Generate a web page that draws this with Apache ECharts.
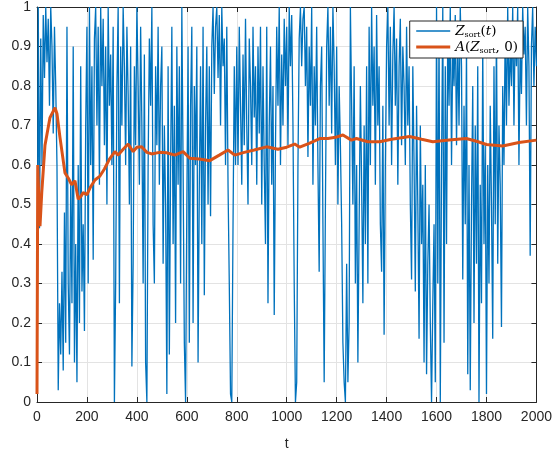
<!DOCTYPE html>
<html><head><meta charset="utf-8">
<script src="https://cdn.jsdelivr.net/npm/echarts@6/dist/echarts.min.js"></script>
<style>html,body{margin:0;padding:0;background:#fff}#c{width:555px;height:456px}</style>
</head><body><div id="c"></div>
<script>
// sample spacing of the blue series (t units)
const tStep = 5;
// Z_sort(t) values, one every 5 units of t, from t=0 to t=2000
const zSort = [
 0.02,1.0,0.44,0.92,0.6,0.98,0.82,1.0,0.86,0.97,0.75,1.0,0.9,0.68,0.95,0.8,0.6,0.03,0.25,0.12,
 0.33,0.08,0.48,0.15,0.95,0.3,0.12,0.55,0.25,0.9,0.1,0.4,0.05,0.6,0.2,0.85,0.28,0.45,0.18,0.7,
 0.95,0.3,1.0,0.6,0.85,0.36,0.92,1.0,0.7,0.95,0.55,1.0,0.8,0.97,0.65,0.9,0.5,1.0,0.75,0.88,
 0.6,0.95,0.0,0.3,0.8,1.0,0.25,0.9,0.7,1.0,0.85,0.6,0.95,0.78,0.5,0.9,0.09,0.35,0.85,0.65,
 1.0,0.8,0.55,0.95,0.7,0.3,0.88,0.1,0.0,0.6,0.92,0.75,1.0,0.45,0.3,0.85,0.65,0.95,0.55,0.8,
 0.9,0.35,0.7,0.5,0.02,0.85,0.12,0.6,0.95,0.4,0.75,0.2,0.9,0.55,0.85,0.3,1.0,0.6,0.15,0.0,
 0.5,0.9,0.15,0.75,0.95,0.2,0.8,0.6,0.9,0.1,0.55,0.85,0.4,0.95,0.27,0.7,0.9,0.5,0.85,0.47,
 0.9,1.0,0.78,0.95,1.0,0.82,0.98,0.7,1.0,0.85,0.92,0.6,0.95,0.55,0.3,0.02,0.0,0.45,0.85,0.6,
 0.9,0.6,0.95,0.75,0.55,0.88,0.65,0.97,0.7,0.5,0.92,0.8,0.6,0.95,0.72,0.85,0.55,0.9,0.68,0.95,
 0.5,0.85,0.6,0.4,0.95,0.25,0.7,0.9,0.55,0.8,0.22,0.65,0.95,0.75,1.0,0.6,0.88,0.7,0.97,0.8,
 0.95,0.65,1.0,0.85,0.98,0.7,0.3,0.0,0.05,0.6,0.92,1.0,0.85,0.97,1.0,0.8,0.95,0.62,0.9,0.75,
 1.0,0.55,0.85,0.7,0.95,0.6,0.33,0.8,0.9,0.45,0.05,0.5,0.9,1.0,0.75,0.95,0.68,1.0,0.85,0.6,
 0.9,0.5,0.8,0.65,0.45,0.15,0.05,0.0,0.35,0.05,0.2,1.0,0.75,0.5,0.85,0.3,0.6,0.1,0.45,0.8,
 0.55,0.25,0.7,0.4,0.85,0.3,0.95,0.6,1.0,0.75,0.9,0.55,0.98,0.7,0.85,0.45,0.33,0.75,0.17,0.6,
 0.9,1.0,0.7,0.95,0.6,0.88,1.0,0.75,0.92,0.55,0.85,0.97,0.65,0.9,0.8,0.6,0.95,0.7,0.85,0.5,
 0.31,0.85,0.6,0.28,0.75,0.5,0.16,0.7,0.4,0.55,0.1,0.6,0.07,0.35,0.5,0.2,0.0,0.25,0.45,0.05,
 1.0,0.3,0.95,0.0,0.6,1.0,0.15,0.85,0.4,0.95,0.75,1.0,0.6,0.9,0.8,0.98,0.65,0.92,0.7,1.0,
 0.85,0.31,0.75,0.45,0.9,0.07,0.6,0.03,0.5,0.8,0.2,0.7,0.35,0.85,0.0,0.55,0.25,0.9,0.4,0.65,
 0.02,0.6,0.3,0.75,0.5,0.16,0.85,0.45,0.95,0.35,0.7,0.55,0.19,0.8,0.6,0.95,0.7,1.0,0.75,0.9,
 0.8,1.0,0.7,0.95,0.85,1.0,0.6,0.9,0.78,1.0,0.88,0.95,0.7,1.0,0.85,0.37,0.9,1.0,0.8,0.95,0.85
];
// A(Z_sort,0): running average, read as [t, value]
const avgT = [0,3,8,12,19,32,52,72,80,92,112,125,139,152,165,175,185,200,215,232,252,270,290,312,325,345,365,385,400,419,440,459,490,519,552,585,612,650,692,730,765,792,830,870,919,965,1000,1032,1052,1090,1132,1165,1195,1225,1259,1279,1325,1372,1420,1492,1540,1585,1650,1719,1760,1800,1865,1930,2000];
const avgV = [0.02,0.6,0.5,0.445,0.53,0.65,0.72,0.745,0.73,0.67,0.58,0.567,0.55,0.56,0.513,0.52,0.53,0.525,0.545,0.562,0.572,0.59,0.615,0.634,0.625,0.64,0.653,0.634,0.645,0.646,0.632,0.628,0.632,0.631,0.625,0.634,0.617,0.615,0.611,0.625,0.638,0.625,0.632,0.638,0.646,0.64,0.645,0.653,0.645,0.655,0.667,0.667,0.67,0.676,0.663,0.667,0.659,0.659,0.665,0.672,0.665,0.659,0.663,0.667,0.66,0.652,0.648,0.657,0.663];
const xTicks = [0,200,400,600,800,1000,1200,1400,1600,1800,2000];
const yTickLabels = ['0','0.1','0.2','0.3','0.4','0.5','0.6','0.7','0.8','0.9','1'];
const names = ['Z_sort(t)','A(Z_sort,0)'];

const blueData = zSort.map((v,i)=>[i*tStep, v]);
const orangeData = avgT.map((t,i)=>[t, avgV[i]]);

const axisColor = '#262626';
const font = 'Liberation Sans, Helvetica, Arial, sans-serif';
const chart = echarts.init(document.getElementById('c'), null, {renderer:'canvas'});
chart.setOption({
  animation:false,
  backgroundColor:'#fff',
  grid:{left:37,right:18,top:7,bottom:54},
  legend:{
    right:32, top:21, orient:'vertical', itemGap:1,
    itemWidth:34, itemHeight:10,
    padding:[3,5,3,5],
    backgroundColor:'#fff', borderColor:'#262626', borderWidth:1, borderRadius:0,
    itemStyle:{opacity:0},
    data:[{name:names[0],lineStyle:{width:1.3}},{name:names[1],lineStyle:{width:3}}],
    formatter:function(n){
      return n===names[0] ? '{i|Z}{s|sort}{n|(}{i|t}{n|)}' : '{i|A}{n|(}{i|Z}{s|sort}{n|, 0)}';
    },
    textStyle:{
      color:'#000',
      rich:{
        i:{fontFamily:'DejaVu Serif, serif',fontStyle:'italic',fontSize:13.5,color:'#000'},
        n:{fontFamily:'DejaVu Serif, serif',fontSize:13.5,color:'#000'},
        s:{fontFamily:'DejaVu Serif, serif',fontSize:8,color:'#000',padding:[8,0,0,0]}
      }
    }
  },
  xAxis:[{
    type:'value', min:0, max:2000, interval:200,
    name:'t', nameLocation:'middle', nameGap:35,
    nameTextStyle:{fontSize:14,color:axisColor,fontFamily:font},
    axisLine:{show:true,onZero:false,lineStyle:{color:axisColor,width:1}},
    axisTick:{show:true,inside:true,length:5,lineStyle:{color:axisColor}},
    axisLabel:{fontSize:14,color:axisColor,fontFamily:font,margin:8,
      formatter:v=>String(xTicks[xTicks.indexOf(v)])},
    splitLine:{show:true,lineStyle:{color:'#e3e3e3',width:1}}
  },{
    type:'value', min:0, max:2000, interval:200, position:'top',
    axisLine:{show:true,onZero:false,lineStyle:{color:axisColor,width:1}},
    axisTick:{show:true,inside:true,length:5,lineStyle:{color:axisColor}},
    axisLabel:{show:false}, splitLine:{show:false}
  }],
  yAxis:[{
    type:'value', min:0, max:1, interval:0.1,
    axisLine:{show:true,onZero:false,lineStyle:{color:axisColor,width:1}},
    axisTick:{show:true,inside:true,length:5,lineStyle:{color:axisColor}},
    axisLabel:{fontSize:14,color:axisColor,fontFamily:font,margin:6,
      formatter:v=>yTickLabels[Math.round(v*10)]},
    splitLine:{show:true,lineStyle:{color:'#e3e3e3',width:1}}
  },{
    type:'value', min:0, max:1, interval:0.1, position:'right',
    axisLine:{show:true,onZero:false,lineStyle:{color:axisColor,width:1}},
    axisTick:{show:true,inside:true,length:5,lineStyle:{color:axisColor}},
    axisLabel:{show:false}, splitLine:{show:false}
  }],
  series:[{
    name:names[0], type:'line', data:blueData, showSymbol:false, symbol:'none',
    lineStyle:{color:'#0072BD',width:1.3,opacity:1}, itemStyle:{color:'#0072BD'},
    clip:true, z:2
  },{
    name:names[1], type:'line', data:orangeData, showSymbol:false, symbol:'none',
    lineStyle:{color:'#D95319',width:3}, itemStyle:{color:'#D95319'},
    clip:true, z:3
  }]
});
</script></body></html>
